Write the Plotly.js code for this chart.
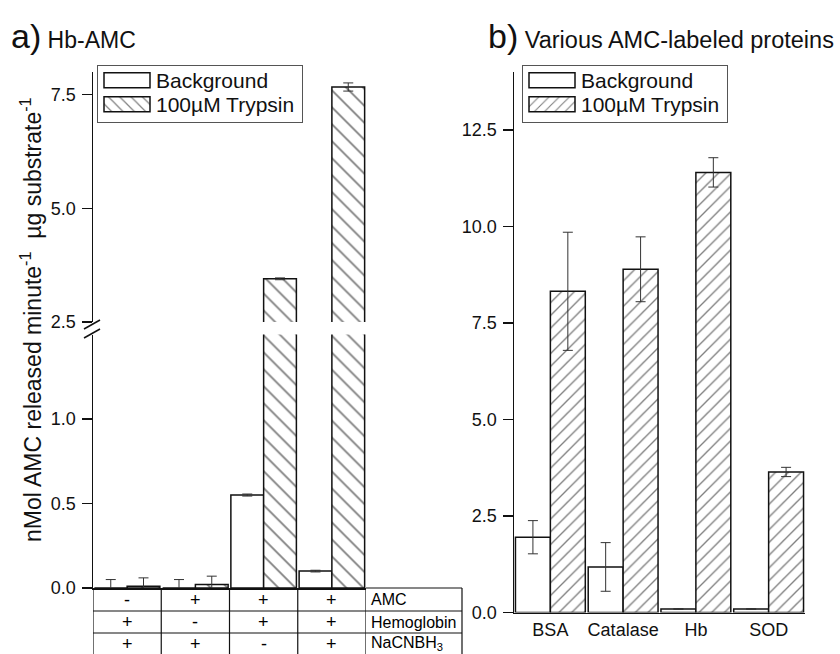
<!DOCTYPE html>
<html><head><meta charset="utf-8">
<script src="https://cdn.plot.ly/plotly-3.0.1.min.js"></script>
<style>html,body{margin:0;padding:0;background:#fff}#chart{width:840px;height:654px}</style>
</head><body><div id="chart"></div>
<script>
// ---- data (panel a) ----
const conditionsA = [0, 1, 2, 3];
const aBackground = [0.0, 0.0, 0.55, 0.10];
const aBackgroundErr = [0.05, 0.05, 0.006, 0.005];
const aTrypsin = [0.01, 0.02, 3.45, 7.67];
const aTrypsinErr = [0.05, 0.05, 0.02, 0.09];
const amcRow = ['-', '+', '+', '+'];
const hemoglobinRow = ['+', '-', '+', '+'];
const nacnbh3Row = ['+', '+', '-', '+'];
const rowLabels = ['AMC', 'Hemoglobin', 'NaCNBH<sub>3</sub>'];
const lowerTicks = [0, 0.5, 1.0];
const upperTicks = [2.5, 5.0, 7.5];
// ---- data (panel b) ----
const proteins = ['BSA', 'Catalase', 'Hb', 'SOD'];
const bBackground = [1.95, 1.18, 0.09, 0.09];
const bBackgroundErr = [0.43, 0.63, 0.01, 0.01];
const bTrypsin = [8.32, 8.89, 11.40, 3.64];
const bTrypsinErr = [1.53, 0.84, 0.38, 0.12];
const bTicks = [0, 2.5, 5.0, 7.5, 10.0, 12.5];
const seriesNames = ['Background', '100\u00b5M Trypsin'];

// ---- layout helpers (pixel -> paper) ----
const W = 840, H = 654;
const px = x => x / W;
const py = y => (H - y) / H;
const FONT = 'Liberation Sans, Arial, Helvetica, sans-serif';
const INK = '#111111';

const barLine = {color: INK, width: 1.5};
const errStyle = arr => ({type: 'data', array: arr, visible: true, color: '#333', thickness: 1, width: 5});
const hatch = shape => ({shape: shape, size: shape === '/' ? 9 : 12, solidity: 0.15, fgcolor: '#000', bgcolor: 'white', fillmode: 'overlay'});

const traces = [];
['y', 'y3'].forEach((ya, k) => {
  traces.push({type: 'bar', x: conditionsA, y: aBackground, xaxis: 'x', yaxis: ya,
    name: seriesNames[0], legend: 'legend', showlegend: k === 0, legendrank: 1,
    marker: {color: 'white', line: barLine}, error_y: errStyle(aBackgroundErr), hoverinfo: 'skip'});
  traces.push({type: 'bar', x: conditionsA, y: aTrypsin, xaxis: 'x', yaxis: ya,
    name: seriesNames[1], legend: 'legend', showlegend: k === 0, legendrank: 2,
    marker: {color: 'white', line: barLine, pattern: hatch('\\')}, error_y: errStyle(aTrypsinErr), hoverinfo: 'skip'});
});
traces.push({type: 'bar', x: proteins, y: bBackground, xaxis: 'x2', yaxis: 'y2',
  name: seriesNames[0], legend: 'legend2', legendrank: 1,
  marker: {color: 'white', line: barLine}, error_y: errStyle(bBackgroundErr), hoverinfo: 'skip'});
traces.push({type: 'bar', x: proteins, y: bTrypsin, xaxis: 'x2', yaxis: 'y2',
  name: seriesNames[1], legend: 'legend2', legendrank: 2,
  marker: {color: 'white', line: barLine, pattern: hatch('/')}, error_y: errStyle(bTrypsinErr), hoverinfo: 'skip'});

const domA = [px(93), px(366)];
const domB = [px(514), px(805)];
const yAxisBase = {showgrid: false, zeroline: false, showline: true, linecolor: INK, linewidth: 1.5,
  ticks: 'outside', ticklen: 10, tickwidth: 1.5, tickcolor: INK, tickformat: '.1f', ticklabelstandoff: 2,
  tickfont: {size: 18, color: INK, family: FONT}, fixedrange: true};

const shapes = [];
const annotations = [];
// table grid (panel a)
const rowEdges = [588, 611, 633, 654];
const colLabelRight = px(462);
conditionsA.concat([conditionsA.length]).forEach((c, i) => {
  shapes.push({type: 'line', xref: 'x', yref: 'paper', x0: i - 0.5, x1: i - 0.5,
    y0: py(rowEdges[0]), y1: py(rowEdges[3]), line: {color: INK, width: 1.2}});
});
shapes.push({type: 'line', xref: 'paper', yref: 'paper', x0: colLabelRight, x1: colLabelRight,
  y0: py(rowEdges[0]), y1: py(rowEdges[3]), line: {color: INK, width: 1.2}});
shapes.push({type: 'line', xref: 'paper', yref: 'paper', x0: domA[1], x1: colLabelRight,
  y0: py(rowEdges[0]), y1: py(rowEdges[0]), line: {color: INK, width: 1.2}});
[1, 2].forEach(r => shapes.push({type: 'line', xref: 'paper', yref: 'paper', x0: domA[0], x1: colLabelRight,
  y0: py(rowEdges[r]), y1: py(rowEdges[r]), line: {color: INK, width: 1.2}}));
[amcRow, hemoglobinRow, nacnbh3Row].forEach((row, r) => {
  const yc = py((rowEdges[r] + rowEdges[r + 1]) / 2);
  row.forEach((s, i) => annotations.push({xref: 'x', yref: 'paper', x: conditionsA[i], y: yc,
    text: s, showarrow: false, xanchor: 'center', yanchor: 'middle', font: {size: 18, color: '#000', family: FONT}}));
  annotations.push({xref: 'paper', yref: 'paper', x: px(369), y: yc, text: rowLabels[r], showarrow: false,
    xanchor: 'left', yanchor: 'middle', font: {size: 16, color: '#000', family: FONT}});
});
// axis break marks
[[84, 329, 100, 320], [84, 338, 100, 329]].forEach(l => shapes.push({type: 'line', xref: 'paper', yref: 'paper',
  x0: px(l[0]), y0: py(l[1]), x1: px(l[2]), y1: py(l[3]), line: {color: INK, width: 1.5}}));
// panel titles
annotations.push({xref: 'paper', yref: 'paper', x: px(9), y: py(36), xanchor: 'left', yanchor: 'middle', showarrow: false,
  text: '<span style="font-size:34px">a)</span> Hb-AMC', font: {size: 23, color: INK, family: FONT}});
annotations.push({xref: 'paper', yref: 'paper', x: px(486), y: py(36), xanchor: 'left', yanchor: 'middle', showarrow: false,
  text: '<span style="font-size:34px">b)</span> Various AMC-labeled proteins', font: {size: 23.5, color: INK, family: FONT}});
// y-axis title (panel a)
annotations.push({xref: 'paper', yref: 'paper', x: px(31), y: py(320), xanchor: 'center', yanchor: 'middle', showarrow: false,
  textangle: -90, text: 'nMol AMC released minute<sup>-1</sup>  \u00b5g substrate<sup>-1</sup>',
  font: {size: 23, color: INK, family: FONT}});

const legendBase = {xanchor: 'left', yanchor: 'top', bgcolor: 'white', bordercolor: '#555', borderwidth: 1,
  font: {size: 21, color: INK, family: FONT}, itemwidth: 48, traceorder: 'normal', tracegroupgap: 0};

const layout = {
  width: W, height: H, paper_bgcolor: 'white', plot_bgcolor: 'white',
  margin: {l: 0, r: 0, t: 0, b: 0, autoexpand: false},
  font: {family: FONT, color: INK},
  barmode: 'group', bargap: 0.04, bargroupgap: 0,
  xaxis: {domain: domA, anchor: 'y', range: [-0.5, 3.5], showgrid: false, zeroline: false, showline: true,
    linecolor: INK, linewidth: 1.5, showticklabels: false, ticks: '', fixedrange: true},
  yaxis: Object.assign({}, yAxisBase, {domain: [py(588), py(334.5)], anchor: 'x', range: [0, 1.5], tickvals: lowerTicks}),
  yaxis3: Object.assign({}, yAxisBase, {domain: [py(322), py(72)], anchor: 'x', range: [2.5, 8.0], tickvals: upperTicks}),
  xaxis2: {domain: domB, anchor: 'y2', range: [-0.5, 3.5], showgrid: false, zeroline: false, showline: true,
    linecolor: INK, linewidth: 1.5, ticks: '', tickfont: {size: 18, color: INK, family: FONT}, fixedrange: true},
  yaxis2: Object.assign({}, yAxisBase, {domain: [py(612.5), py(72)], anchor: 'x2', range: [0, 14], tickvals: bTicks}),
  legend: Object.assign({}, legendBase, {x: px(97), y: py(65)}),
  legend2: Object.assign({}, legendBase, {x: px(522), y: py(65)}),
  shapes: shapes, annotations: annotations, showlegend: true
};

Plotly.newPlot('chart', traces, layout, {displayModeBar: false, staticPlot: true}).then(gd => {
  // widen the legend swatches to the wide rectangles of the reference
  gd.querySelectorAll('.legendpoints path').forEach(p => {
    p.setAttribute('d', 'M23,7.5H-23V-7.5H23Z');
  });
  // tighten legend rows like the reference boxes
  ['legend', 'legend2'].forEach(id => {
    const lg = gd.querySelector('g.' + id);
    if (!lg) return;
    const items = Array.from(lg.querySelectorAll('g.traces'));
    const pos = items.map(it => /translate\(\s*([-\d.e]+)[ ,]+([-\d.e]+)\s*\)/.exec(it.getAttribute('transform') || ''));
    if (pos.some(m => !m)) return;
    const y0 = +pos[0][2];
    items.forEach((it, i) => it.setAttribute('transform', 'translate(' + pos[i][1] + ',' + (y0 - 6 + i * 24) + ')'));
    const bg = lg.querySelector('rect.bg');
    if (bg) { bg.setAttribute('height', 57); bg.setAttribute('width', 205); }
  });
});
</script>
</body></html>
